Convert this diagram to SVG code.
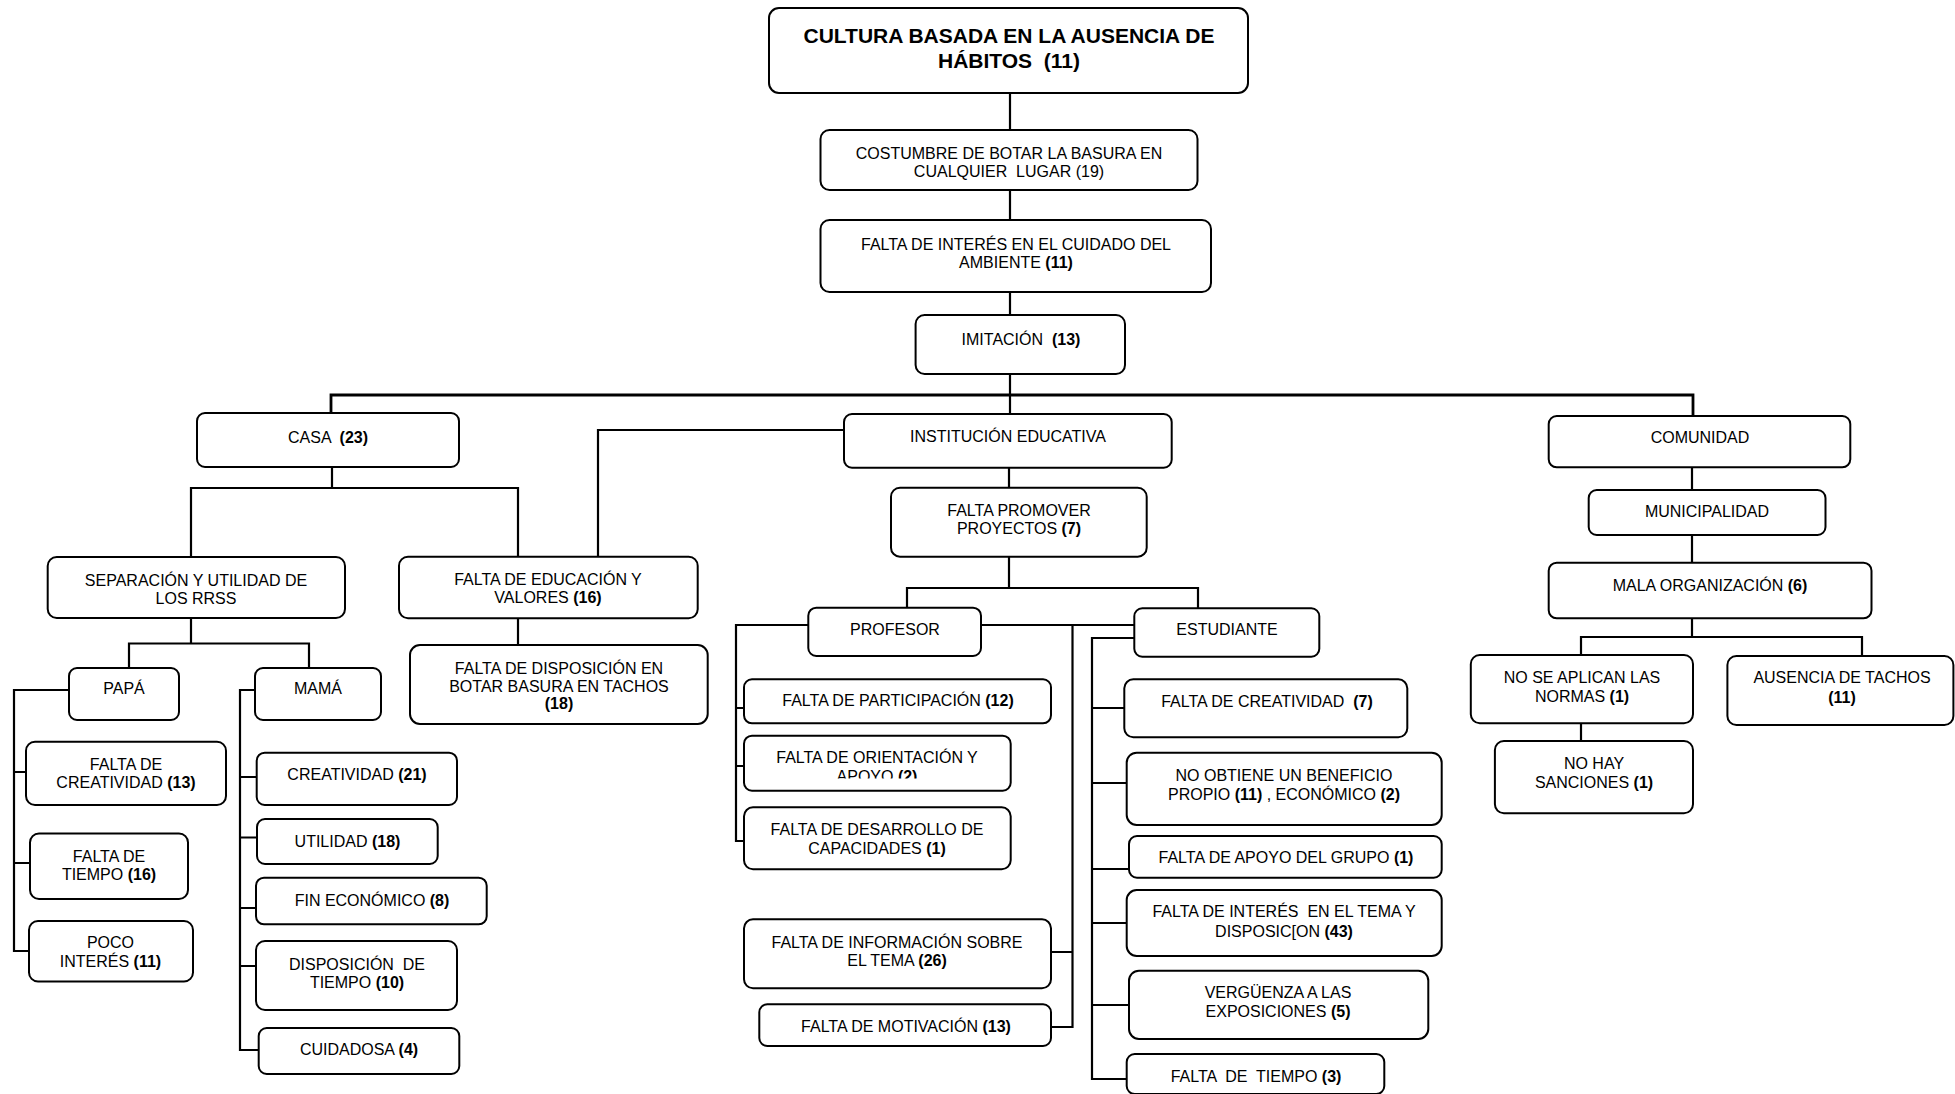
<svg xmlns="http://www.w3.org/2000/svg" width="1955" height="1094" viewBox="0 0 1955 1094" xml:space="preserve">
<style>
.box{fill:#fff;stroke:#000;stroke-width:2}
.ln{fill:none;stroke:#000;stroke-width:2.2}
.main{fill:none;stroke:#000;stroke-width:2.8}
text{font-family:"Liberation Sans",Arial,sans-serif;font-size:16px;fill:#000;text-anchor:middle;white-space:pre}
.t{font-size:21px;font-weight:bold}
.b{font-weight:bold}
</style>
<defs>
<clipPath id="clipOri"><rect x="744" y="735" width="267" height="43.5"/></clipPath>
</defs>
<rect width="1955" height="1094" fill="#fff"/>
<g id="connectors">
<path class="ln" d="M1010 93V130M1010 190V220M1010 292V315M1010 374V414"/>
<path class="main" d="M331 413V395H1693V416"/>
<path class="ln" d="M332 467V488M191 557V488H518V557"/>
<path class="ln" d="M844 430H598V557"/>
<path class="ln" d="M191 618V643.5M129 668V643.5H309V668"/>
<path class="ln" d="M69 690H14V951H29M14 772H26M14 863H30"/>
<path class="ln" d="M255 690H240V1050H259M240 777H257M240 837.5H257M240 908H256M240 966H256"/>
<path class="ln" d="M518 618V645"/>
<path class="ln" d="M1009 468V488M1009 557V588M907 608V588H1198V608"/>
<path class="ln" d="M981 625H1134M1072.5 625V1027H1051M1072.5 952H1051"/>
<path class="ln" d="M808 625H736V841H744M736 708H744M736 766H744"/>
<path class="ln" d="M1134 638H1092V1079H1127M1092 708H1124M1092 783H1127M1092 869H1129M1092 923H1127M1092 1005H1129"/>
<path class="ln" d="M1692 467V490M1692 535V563M1692 618V637M1581 655V637H1862V656M1581 723V741"/>
</g>
<g id="n-cultura"><rect class="box" x="769" y="8" width="479" height="85" rx="10"/><text class="t" x="1009" y="43">CULTURA BASADA EN LA AUSENCIA DE</text><text class="t" x="1009" y="68">HÁBITOS  (11)</text></g>
<g id="n-costumbre"><rect class="box" x="820.5" y="130" width="377" height="60" rx="9"/><text x="1009" y="159">COSTUMBRE DE BOTAR LA BASURA EN</text><text x="1009" y="177">CUALQUIER  LUGAR (19)</text></g>
<g id="n-interes"><rect class="box" x="820.5" y="220" width="390.5" height="72" rx="9"/><text x="1016" y="250">FALTA DE INTERÉS EN EL CUIDADO DEL</text><text x="1016" y="268">AMBIENTE <tspan class="b">(11)</tspan></text></g>
<g id="n-imitacion"><rect class="box" x="915.6" y="315" width="209.4" height="59" rx="9"/><text x="1021" y="345">IMITACIÓN  <tspan class="b">(13)</tspan></text></g>
<g id="n-casa"><rect class="box" x="197" y="413" width="262" height="54" rx="8"/><text x="328" y="443">CASA  <tspan class="b">(23)</tspan></text></g>
<g id="n-institucion"><rect class="box" x="844" y="414" width="327.7" height="53.7" rx="8"/><text x="1008" y="442">INSTITUCIÓN EDUCATIVA</text></g>
<g id="n-comunidad"><rect class="box" x="1548.7" y="416" width="301.6" height="51.3" rx="8"/><text x="1700" y="443">COMUNIDAD</text></g>
<g id="n-municipalidad"><rect class="box" x="1588.7" y="490" width="236.8" height="45" rx="8"/><text x="1707" y="517">MUNICIPALIDAD</text></g>
<g id="n-mala"><rect class="box" x="1548.7" y="562.7" width="322.8" height="55.6" rx="8"/><text x="1710" y="591">MALA ORGANIZACIÓN <tspan class="b">(6)</tspan></text></g>
<g id="n-normas"><rect class="box" x="1470.8" y="655" width="222.2" height="68.3" rx="9"/><text x="1582" y="683">NO SE APLICAN LAS</text><text x="1582" y="702">NORMAS <tspan class="b">(1)</tspan></text></g>
<g id="n-tachos"><rect class="box" x="1727.4" y="656" width="226" height="69" rx="9"/><text x="1842" y="683">AUSENCIA DE TACHOS</text><text class="b" x="1842" y="703">(11)</text></g>
<g id="n-sanciones"><rect class="box" x="1494.9" y="741" width="198.1" height="72.3" rx="9"/><text x="1594" y="769">NO HAY</text><text x="1594" y="788">SANCIONES <tspan class="b">(1)</tspan></text></g>
<g id="n-separacion"><rect class="box" x="47.7" y="557" width="297.3" height="61" rx="9"/><text x="196" y="586">SEPARACIÓN Y UTILIDAD DE</text><text x="196" y="604">LOS RRSS</text></g>
<g id="n-educacion"><rect class="box" x="399" y="556.7" width="298.7" height="61.6" rx="9"/><text x="548" y="585">FALTA DE EDUCACIÓN Y</text><text x="548" y="603">VALORES <tspan class="b">(16)</tspan></text></g>
<g id="n-disposicion"><rect class="box" x="410" y="645" width="297.7" height="79" rx="10"/><text x="559" y="674">FALTA DE DISPOSICIÓN EN</text><text x="559" y="692">BOTAR BASURA EN TACHOS</text><text class="b" x="559" y="709">(18)</text></g>
<g id="n-papa"><rect class="box" x="69" y="668" width="110" height="52" rx="8"/><text x="124" y="694">PAPÁ</text></g>
<g id="n-mama"><rect class="box" x="255" y="668" width="126" height="52" rx="8"/><text x="318" y="694">MAMÁ</text></g>
<g id="n-papa-creatividad"><rect class="box" x="26" y="741.7" width="200" height="63.3" rx="9"/><text x="126" y="770">FALTA DE</text><text x="126" y="788">CREATIVIDAD <tspan class="b">(13)</tspan></text></g>
<g id="n-papa-tiempo"><rect class="box" x="30" y="833.5" width="158" height="65.5" rx="9"/><text x="109" y="862">FALTA DE</text><text x="109" y="880">TIEMPO <tspan class="b">(16)</tspan></text></g>
<g id="n-papa-interes"><rect class="box" x="29" y="921" width="164" height="60.5" rx="9"/><text x="110.5" y="948">POCO</text><text x="110.5" y="967">INTERÉS <tspan class="b">(11)</tspan></text></g>
<g id="n-mama-creatividad"><rect class="box" x="256.7" y="752.7" width="200.3" height="52.3" rx="8"/><text x="357" y="780">CREATIVIDAD <tspan class="b">(21)</tspan></text></g>
<g id="n-mama-utilidad"><rect class="box" x="257" y="819" width="180.7" height="45" rx="8"/><text x="347.5" y="847">UTILIDAD <tspan class="b">(18)</tspan></text></g>
<g id="n-mama-fin"><rect class="box" x="256" y="877.7" width="230.7" height="46.6" rx="8"/><text x="372" y="906">FIN ECONÓMICO <tspan class="b">(8)</tspan></text></g>
<g id="n-mama-disposicion"><rect class="box" x="256" y="941" width="201" height="69" rx="9"/><text x="357" y="970">DISPOSICIÓN  DE</text><text x="357" y="988">TIEMPO <tspan class="b">(10)</tspan></text></g>
<g id="n-mama-cuidadosa"><rect class="box" x="258.7" y="1028" width="200.6" height="46" rx="8"/><text x="359" y="1055">CUIDADOSA <tspan class="b">(4)</tspan></text></g>
<g id="n-promover"><rect class="box" x="891" y="487.7" width="255.7" height="69" rx="9"/><text x="1019" y="516">FALTA PROMOVER</text><text x="1019" y="534">PROYECTOS <tspan class="b">(7)</tspan></text></g>
<g id="n-profesor"><rect class="box" x="808.3" y="607.7" width="172.7" height="48.3" rx="8"/><text x="895" y="635">PROFESOR</text></g>
<g id="n-estudiante"><rect class="box" x="1134.3" y="608.3" width="185" height="48.4" rx="8"/><text x="1227" y="635">ESTUDIANTE</text></g>
<g id="n-participacion"><rect class="box" x="744" y="679.3" width="307" height="44" rx="8"/><text x="898" y="706">FALTA DE PARTICIPACIÓN <tspan class="b">(12)</tspan></text></g>
<g id="n-orientacion"><rect class="box" x="744" y="735.7" width="266.7" height="55" rx="8"/><text x="877" y="763">FALTA DE ORIENTACIÓN Y</text><text x="877" y="781.5" clip-path="url(#clipOri)">APOYO <tspan class="b">(2)</tspan></text></g>
<g id="n-desarrollo"><rect class="box" x="744" y="807.3" width="266.7" height="62" rx="9"/><text x="877" y="835">FALTA DE DESARROLLO DE</text><text x="877" y="854">CAPACIDADES <tspan class="b">(1)</tspan></text></g>
<g id="n-informacion"><rect class="box" x="744" y="919.3" width="307" height="69" rx="9"/><text x="897" y="948">FALTA DE INFORMACIÓN SOBRE</text><text x="897" y="966">EL TEMA <tspan class="b">(26)</tspan></text></g>
<g id="n-motivacion"><rect class="box" x="759.3" y="1004.3" width="291.7" height="41.7" rx="8"/><text x="906" y="1032">FALTA DE MOTIVACIÓN <tspan class="b">(13)</tspan></text></g>
<g id="n-est-creatividad"><rect class="box" x="1124.3" y="679.3" width="283" height="58" rx="9"/><text x="1267" y="707">FALTA DE CREATIVIDAD  <tspan class="b">(7)</tspan></text></g>
<g id="n-beneficio"><rect class="box" x="1126.7" y="752.7" width="315" height="72.3" rx="10"/><text x="1284" y="781">NO OBTIENE UN BENEFICIO</text><text x="1284" y="800">PROPIO <tspan class="b">(11)</tspan> , ECONÓMICO <tspan class="b">(2)</tspan></text></g>
<g id="n-apoyo"><rect class="box" x="1129" y="836" width="312.7" height="41.7" rx="8"/><text x="1286" y="863">FALTA DE APOYO DEL GRUPO <tspan class="b">(1)</tspan></text></g>
<g id="n-est-interes"><rect class="box" x="1126.7" y="890" width="315" height="66" rx="10"/><text x="1284" y="917">FALTA DE INTERÉS  EN EL TEMA Y</text><text x="1284" y="937">DISPOSIC[ON <tspan class="b">(43)</tspan></text></g>
<g id="n-verguenza"><rect class="box" x="1129" y="970.7" width="299.3" height="68.3" rx="10"/><text x="1278" y="998">VERGÜENZA A LAS</text><text x="1278" y="1017">EXPOSICIONES <tspan class="b">(5)</tspan></text></g>
<g id="n-est-tiempo"><rect class="box" x="1126.7" y="1054" width="257.6" height="40" rx="8"/><text x="1256" y="1082">FALTA  DE  TIEMPO <tspan class="b">(3)</tspan></text></g>
</svg>
